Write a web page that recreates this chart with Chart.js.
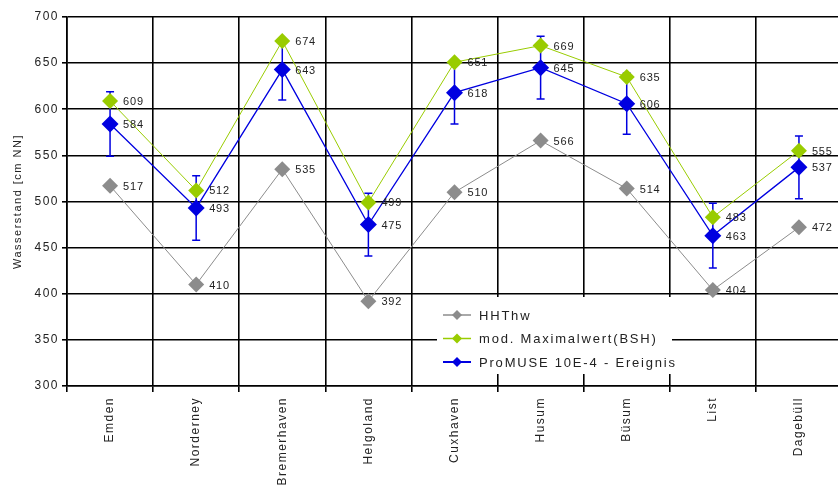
<!DOCTYPE html>
<html>
<head>
<meta charset="utf-8">
<script src="https://cdn.jsdelivr.net/npm/chart.js@4.4.0/dist/chart.umd.min.js"></script>
<style>
  html, body { margin: 0; padding: 0; background: #fff; overflow: hidden; }
  #wrap { position: relative; width: 860px; height: 487px; }
</style>
</head>
<body>
<div id="wrap"><canvas id="chart"></canvas></div>
<script>
const stations = ['Emden', 'Norderney', 'Bremerhaven', 'Helgoland', 'Cuxhaven', 'Husum', 'Büsum', 'List', 'Dagebüll'];
const seriesNames = ['HHThw', 'mod. Maximalwert(BSH)', 'ProMUSE 10E-4 - Ereignis'];
const hhthw   = [517, 410, 535, 392, 510, 566, 514, 404, 472];
const maxBsh  = [609, 512, 674, 499, 651, 669, 635, 483, 555];
const promuse = [584, 493, 643, 475, 618, 645, 606, 463, 537];
const promuseErr = [35, 35, 33, 34, 34, 34, 33, 35, 34];
const yMin = 300, yMax = 700, yStep = 50;
const yTitle = 'Wasserstand [cm NN]';

const FONT = 'Arial, "Liberation Sans", sans-serif';
const colors = ['#8c8c8c', '#99cc00', '#0000e0'];

// global letter spacing to mimic the stretched look of the original
const spacing = {
  id: 'spacing',
  beforeDraw(chart) { chart.ctx.letterSpacing = '1.5px'; }
};

const errorBars = {
  id: 'errorBars',
  beforeDatasetsDraw(chart) {
    const { ctx, scales: { y } } = chart;
    const meta = chart.getDatasetMeta(2);
    ctx.save();
    ctx.strokeStyle = colors[2];
    ctx.lineWidth = 1.5;
    meta.data.forEach((pt, i) => {
      const top = y.getPixelForValue(promuse[i] + promuseErr[i]);
      const bot = y.getPixelForValue(promuse[i] - promuseErr[i]);
      ctx.beginPath();
      ctx.moveTo(pt.x, top); ctx.lineTo(pt.x, bot);
      ctx.moveTo(pt.x - 4, top); ctx.lineTo(pt.x + 4, top);
      ctx.moveTo(pt.x - 4, bot); ctx.lineTo(pt.x + 4, bot);
      ctx.stroke();
    });
    ctx.restore();
  }
};

const valueLabels = {
  id: 'valueLabels',
  afterDatasetsDraw(chart) {
    const { ctx } = chart;
    ctx.save();
    ctx.font = '11px ' + FONT;
    ctx.letterSpacing = '0.8px';
    ctx.fillStyle = '#222';
    ctx.textAlign = 'left';
    ctx.textBaseline = 'middle';
    chart.data.datasets.forEach((ds, di) => {
      chart.getDatasetMeta(di).data.forEach((pt, i) => {
        ctx.fillText(String(ds.data[i]), pt.x + 13, pt.y + 1);
      });
    });
    ctx.restore();
  }
};

const boxLegend = {
  id: 'boxLegend',
  afterDraw(chart) {
    const { ctx } = chart;
    ctx.save();
    ctx.fillStyle = '#fff';
    ctx.fillRect(437, 297, 235, 77);
    ctx.font = '13px ' + FONT;
    ctx.letterSpacing = '1.8px';
    ctx.textBaseline = 'middle';
    seriesNames.forEach((name, i) => {
      const yy = 315 + i * 23.5;
      ctx.strokeStyle = colors[i];
      ctx.lineWidth = i === 2 ? 2 : 1.5;
      ctx.beginPath(); ctx.moveTo(443, yy); ctx.lineTo(471, yy); ctx.stroke();
      ctx.fillStyle = colors[i];
      ctx.beginPath();
      ctx.moveTo(457, yy - 5); ctx.lineTo(462, yy); ctx.lineTo(457, yy + 5); ctx.lineTo(452, yy);
      ctx.closePath(); ctx.fill();
      ctx.fillStyle = '#222';
      ctx.fillText(name, 479, yy + 1);
    });
    ctx.restore();
  }
};

function series(label, data, color, width, radius) {
  return {
    label, data,
    borderColor: color, backgroundColor: color,
    borderWidth: width,
    pointStyle: 'rectRot', pointRadius: radius,
    pointBorderWidth: 0, pointBackgroundColor: color,
    tension: 0
  };
}

new Chart(document.getElementById('chart'), {
  type: 'line',
  data: {
    labels: stations,
    datasets: [
      series(seriesNames[0], hhthw, colors[0], 1, 8),
      series(seriesNames[1], maxBsh, colors[1], 1, 8),
      series(seriesNames[2], promuse, colors[2], 1.3, 8.5)
    ]
  },
  options: {
    responsive: true,
    maintainAspectRatio: false,
    animation: false,
    layout: { padding: { top: 17, right: 18, left: 0, bottom: 0 } },
    plugins: { legend: { display: false }, tooltip: { enabled: false } },
    scales: {
      x: {
        offset: true,
        grid: { offset: true, color: '#000', lineWidth: 1.6, tickLength: 6 },
        border: { color: '#000', width: 1.6 },
        ticks: {
          autoSkip: false, maxRotation: 90, minRotation: 90,
          color: '#222', padding: 5,
          font: { family: FONT, size: 12 }
        },
        afterFit(s) { s.height = 101; }
      },
      y: {
        min: yMin, max: yMax,
        grid: { color: '#000', lineWidth: 1.6, tickLength: 5 },
        border: { color: '#000', width: 1.6 },
        ticks: {
          stepSize: yStep, color: '#222', padding: 3,
          font: { family: FONT, size: 12 }
        },
        title: {
          display: true, text: yTitle, color: '#222',
          font: { family: FONT, size: 11 },
          padding: { top: 11, bottom: 0 }
        },
        afterFit(s) { s.width = 67; }
      }
    }
  },
  plugins: [spacing, errorBars, valueLabels, boxLegend]
});
</script>
</body>
</html>
